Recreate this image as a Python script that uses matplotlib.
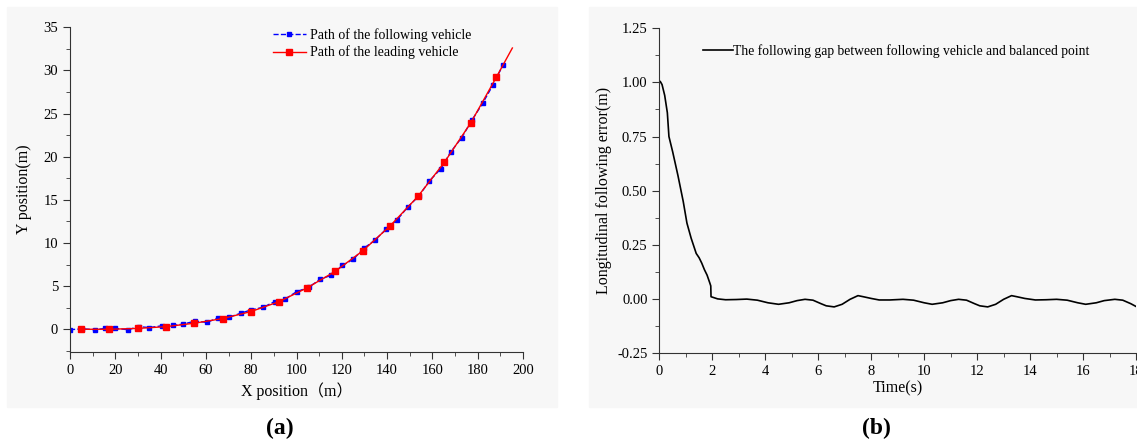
import matplotlib.pyplot as plt
from matplotlib.patches import Rectangle
from matplotlib.ticker import MultipleLocator

# (a) paths: following vehicle samples and leading vehicle samples
follow_x = [0, 5.5, 10.9, 15.6, 20, 25.6, 30.3, 35, 40.6, 45.6, 50, 55.3, 60.3, 65.4,
            70.2, 75.3, 80, 85.3, 90.3, 95, 100, 105.3, 110.5, 115.2, 120.3, 125,
            129.8, 134.5, 139.6, 144.5, 149.2, 153.9, 158.7, 163.7, 168.1, 172.9,
            177.6, 182.2, 186.7, 191.1]
follow_y = [-0.05, 0.05, -0.05, 0.1, 0.1, -0.05, 0.3, 0.2, 0.4, 0.45, 0.6, 0.95, 0.8, 1.3,
            1.4, 1.85, 2.25, 2.55, 3.2, 3.5, 4.35, 4.85, 5.8, 6.25, 7.4, 8.1,
            9.4, 10.3, 11.6, 12.7, 14.2, 15.4, 17.2, 18.6, 20.55, 22.2,
            24.3, 26.2, 28.3, 30.6]
lead_x = [4.9, 17.4, 30, 42.3, 54.8, 67.4, 79.9, 92.3, 104.7, 117, 129.3, 141.4,
          153.6, 165.3, 177, 188.2, 195.3]
lead_y = [0, 0, 0.1, 0.3, 0.7, 1.24, 2.05, 3.2, 4.8, 6.7, 9.1, 12.0,
          15.4, 19.35, 23.95, 29.2, 32.6]

# (b) longitudinal following error over time
t = [0, 0.03, 0.1, 0.2, 0.3, 0.36, 0.5, 0.7, 0.9, 1.04, 1.2, 1.39, 1.5, 1.6, 1.7, 1.8,
     1.9, 1.94, 1.95, 2.0, 2.2, 2.5, 2.9, 3.3, 3.7, 4.1, 4.5, 4.9, 5.2, 5.5, 5.8, 6.1,
     6.3, 6.6, 6.9, 7.2, 7.5, 7.7, 8.0, 8.3, 8.7, 9.2, 9.6, 10.0, 10.3, 10.7, 11.0,
     11.3, 11.6, 11.9, 12.1, 12.4, 12.7, 13.0, 13.3, 13.5, 13.8, 14.2, 14.6, 15.0,
     15.4, 15.8, 16.1, 16.5, 16.8, 17.2, 17.5, 17.8, 18.0]
err = [1.0, 1.005, 0.99, 0.94, 0.86, 0.75, 0.68, 0.57, 0.45, 0.35, 0.28, 0.21, 0.19,
       0.165, 0.135, 0.11, 0.075, 0.06, 0.01, 0.008, 0.0, -0.004, -0.003, -0.001,
       -0.006, -0.018, -0.025, -0.018, -0.008, -0.002, -0.006, -0.022, -0.032, -0.037,
       -0.025, -0.002, 0.015, 0.01, 0.002, -0.005, -0.005, -0.002, -0.006, -0.018,
       -0.025, -0.018, -0.008, -0.002, -0.006, -0.022, -0.032, -0.037, -0.025, -0.002,
       0.015, 0.01, 0.002, -0.005, -0.004, -0.002, -0.006, -0.018, -0.025, -0.018,
       -0.008, -0.002, -0.006, -0.022, -0.035]

plt.rcParams['font.family'] = ['Liberation Serif', 'Noto Sans CJK SC']
plt.rcParams['font.size'] = 10.5

fig = plt.figure(figsize=(11.37, 4.44), dpi=100)
W, H = 1137, 444

# light grey panel backgrounds, kept behind the axes
for x0, x1 in [(7, 557), (589, 1137)]:
    fig.patches.append(Rectangle((x0 / W, 1 - 407 / H), (x1 - x0) / W, 400 / H,
                                 transform=fig.transFigure, color='#f7f7f7', zorder=-10))

def style(ax):
    ax.set_facecolor('none')
    for s in ['top', 'right']:
        ax.spines[s].set_visible(False)
    for s in ['left', 'bottom']:
        ax.spines[s].set_color('#333333')
    ax.tick_params(which='major', direction='out', length=5, color='#333333')
    ax.tick_params(which='minor', direction='out', length=3, color='#333333')

ax1 = fig.add_axes([70 / W, 1 - 351.7 / H, (523 - 70) / W, (351.7 - 27.3) / H])
style(ax1)
ax1.plot(follow_x, follow_y, color='#0000ff', ls='--', lw=1.0, marker='s', ms=2.4,
         label='Path of the following vehicle')
ax1.plot(lead_x, lead_y, color='#ff0000', lw=1.0, marker='s', ms=4.5,
         markevery=list(range(len(lead_x) - 1)), label='Path of the leading vehicle')
ax1.set_xlim(0, 200)
ax1.set_ylim(-2.6, 35)
ax1.xaxis.set_major_locator(MultipleLocator(20))
ax1.xaxis.set_minor_locator(MultipleLocator(10))
ax1.yaxis.set_major_locator(MultipleLocator(5))
ax1.yaxis.set_minor_locator(MultipleLocator(2.5))
ax1.set_xlabel('X position（m）', fontsize=11.5)
ax1.set_ylabel('Y position(m)', fontsize=11.5, labelpad=8)
ax1.legend(loc='upper left', bbox_to_anchor=(0.42, 1.035), frameon=False, fontsize=10,
           handlelength=2.4, handletextpad=0.3, labelspacing=0.25)

ax2 = fig.add_axes([659.4 / W, 1 - 353 / H, (1136 - 659.4) / W, (353 - 28.3) / H])
style(ax2)
ax2.plot(t, err, color='black', lw=1.2,
         label='The following gap between following vehicle and balanced point')
ax2.set_xlim(0, 18)
ax2.set_ylim(-0.25, 1.25)
ax2.xaxis.set_major_locator(MultipleLocator(2))
ax2.xaxis.set_minor_locator(MultipleLocator(1))
ax2.yaxis.set_major_locator(MultipleLocator(0.25))
ax2.yaxis.set_minor_locator(MultipleLocator(0.125))
ax2.yaxis.set_major_formatter(plt.FormatStrFormatter('%.2f'))
ax2.set_xlabel('Time(s)', fontsize=11.5, labelpad=2)
ax2.set_ylabel('Longitudinal following error(m)', fontsize=11.5)
ax2.legend(loc='upper left', bbox_to_anchor=(0.065, 0.99), frameon=False, fontsize=9.8,
           handlelength=2.2, handletextpad=0.0)

fig.text(280 / W, 1 - 428 / H, '(a)', ha='center', va='center', fontsize=17, fontweight='bold')
fig.text(876 / W, 1 - 428 / H, '(b)', ha='center', va='center', fontsize=17, fontweight='bold')

fig.savefig('out.png', dpi=100)
